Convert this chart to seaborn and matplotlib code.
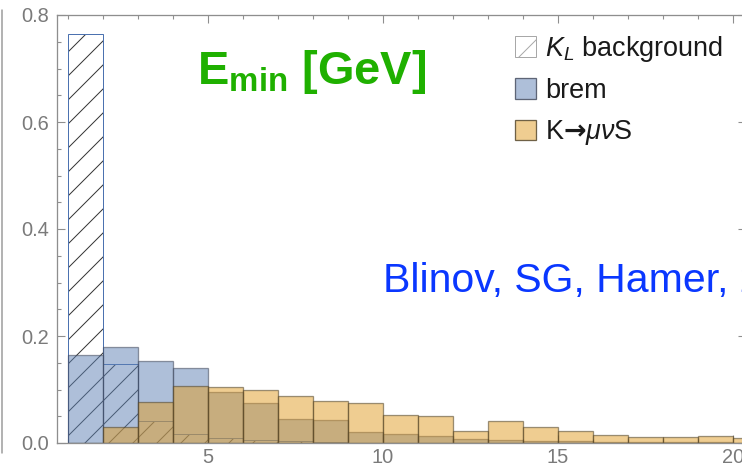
import numpy as np
import pandas as pd
import matplotlib
matplotlib.use("Agg")
import matplotlib.pyplot as plt
from matplotlib.patches import Patch
from matplotlib.lines import Line2D
from matplotlib.ticker import MultipleLocator, FormatStrFormatter
import seaborn as sns

# Minimum-energy distributions, unit-width bins starting at 1 GeV
bin_left = list(range(1, 21))
kl_background = [0.764, 0.148, 0.041, 0.016, 0.009, 0.005, 0.003, 0.002, 0.0, 0.0,
                 0.0, 0.0, 0.0, 0.0, 0.0, 0.0, 0.0, 0.0, 0.0, 0.0]
brem = [0.165, 0.179, 0.154, 0.140, 0.095, 0.075, 0.044, 0.043, 0.020, 0.016,
        0.013, 0.007, 0.006, 0.004, 0.003, 0.002, 0.001, 0.001, 0.001, 0.0]
k_mu_nu_s = [0.0, 0.029, 0.076, 0.106, 0.105, 0.099, 0.088, 0.079, 0.074, 0.053,
             0.051, 0.023, 0.042, 0.029, 0.0225, 0.015, 0.011, 0.011, 0.0125, 0.009]

x_ticks = [5, 10, 15, 20]
y_ticks = [0.0, 0.2, 0.4, 0.6, 0.8]

edges = [float(e) for e in range(1, 22)]
centers = np.array(bin_left) + 0.5
df = pd.DataFrame({"E": centers, "KL": kl_background, "brem": brem, "KmuS": k_mu_nu_s})

sns.set_theme(style="ticks")
plt.rcParams["font.family"] = ["Liberation Sans", "DejaVu Sans"]
plt.rcParams["mathtext.fontset"] = "custom"
plt.rcParams["mathtext.rm"] = "Liberation Sans"
plt.rcParams["mathtext.it"] = "Liberation Sans:italic"
plt.rcParams["mathtext.bf"] = "Liberation Sans:bold"
plt.rcParams["mathtext.sf"] = "DejaVu Sans:bold"
plt.rcParams["hatch.linewidth"] = 1.0

DPI = 72
fig = plt.figure(figsize=(742 / DPI, 469 / DPI), dpi=DPI)
ax = fig.add_axes([57 / 742, 26 / 469, (746 - 57) / 742, (443 - 15) / 469])

blue = (0.368, 0.507, 0.710)
orange = (0.881, 0.611, 0.142)

# K_L background: hatch only, then a light outline
sns.histplot(data=df, x="E", weights="KL", bins=edges, ax=ax, element="bars",
             fill=True, facecolor=(1, 1, 1, 0), edgecolor=(0.12, 0.12, 0.12, 0.9),
             hatch="/", linewidth=0)
sns.histplot(data=df, x="E", weights="KL", bins=edges, ax=ax, element="bars",
             fill=False, edgecolor=(0.55, 0.55, 0.55, 0.7), linewidth=1.0)
# brem
sns.histplot(data=df, x="E", weights="brem", bins=edges, ax=ax, element="bars",
             fill=True, facecolor=blue + (0.5,), edgecolor=(0.25, 0.28, 0.35, 0.55),
             linewidth=1.3)
# K -> mu nu S
sns.histplot(data=df, x="E", weights="KmuS", bins=edges, ax=ax, element="bars",
             fill=True, facecolor=orange + (0.5,), edgecolor=(0.3, 0.25, 0.15, 0.55),
             linewidth=1.3)

ax.set_xlim(0.686, 20.37)
ax.set_ylim(0, 0.8)
ax.set_xlabel("")
ax.set_ylabel("")

frame_col = "#8e8e8e"
for s in ax.spines.values():
    s.set_visible(True)
    s.set_color(frame_col)
    s.set_linewidth(1.3)

ax.set_xticks(x_ticks)
ax.set_yticks(y_ticks)
ax.xaxis.set_minor_locator(MultipleLocator(1))
ax.yaxis.set_minor_locator(MultipleLocator(0.05))
ax.yaxis.set_major_formatter(FormatStrFormatter("%.1f"))
ax.tick_params(which="both", direction="in", top=True, right=True, bottom=True, left=True,
               color=frame_col, width=1.1)
ax.tick_params(which="major", length=8, labelsize=20, labelcolor="#7a7a7a")
ax.tick_params(which="minor", length=4)
ax.tick_params(axis="y", which="major", pad=8)
ax.tick_params(axis="x", which="major", pad=5)

# Panel labels
fig.text(197 / 742, 1 - 84 / 469, r"E$_{\mathbf{min}}$ [GeV]", color="#1fb000",
         fontsize=47, fontweight="bold", ha="left", va="baseline")
fig.text(383 / 742, 1 - 292 / 469, "Blinov, SG, Hamer, 2021", color="#0a37ff",
         fontsize=41, ha="left", va="baseline")

# Legend
handles = [
    Patch(facecolor="white", edgecolor="#a8a8a8", hatch="/", linewidth=1.0),
    Patch(facecolor=blue + (0.5,), edgecolor=(0.25, 0.28, 0.35, 0.8), linewidth=1.3),
    Patch(facecolor=orange + (0.5,), edgecolor=(0.3, 0.25, 0.15, 0.8), linewidth=1.3),
]
labels = [r"$K_L$ background", "brem", r"K$\mathsf{→}\mu\nu$S"]
leg = fig.legend(handles, labels, loc="upper left", bbox_to_anchor=(515 / 742, 1 - 34 / 469),
                 bbox_transform=fig.transFigure, frameon=False, fontsize=27,
                 handlelength=0.78, handleheight=0.78, handletextpad=0.33,
                 labelspacing=0.52, borderpad=0, borderaxespad=0)
for t in leg.get_texts():
    t.set_color("#1a1a1a")

# Neighbouring panel edge at the far left
fig.add_artist(Line2D([2 / 742, 2 / 742], [1 - 453 / 469, 1 - 10 / 469],
                      transform=fig.transFigure, color="#9a9a9a", linewidth=1.5))

fig.savefig("out.png", dpi=DPI)
